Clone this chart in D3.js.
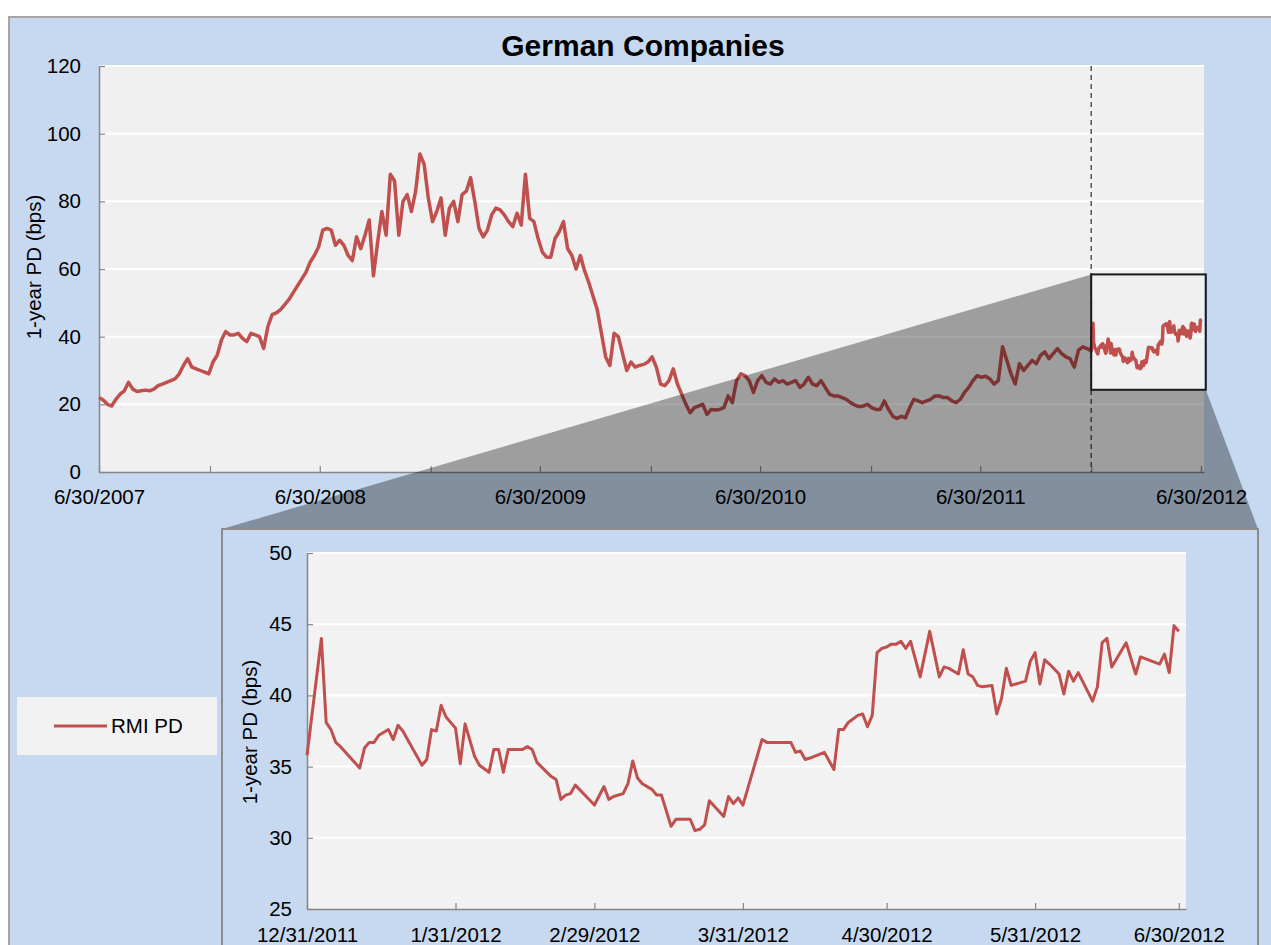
<!DOCTYPE html>
<html><head><meta charset="utf-8">
<script src="https://cdn.jsdelivr.net/npm/d3@7"></script>
<style>
body{margin:0;background:#fff;}
svg{display:block;font-family:"Liberation Sans",Arial,sans-serif;}
</style>
</head><body><svg id="c" width="1271" height="945"></svg>
<script>
// ---------------- data ----------------
const chartTitle = "German Companies";
const yAxisTitle = "1-year PD (bps)";
const seriesName = "RMI PD";

// Weekly readings of RMI PD (bps), starting 6/30/2007, one value per week until 12/31/2011
const weeklyStart = "2007-06-30";
const weeklyValues = [
  22, 21.3, 20, 19.5, 21.5, 23, 24, 26.5, 24.5, 23.8,
  24, 24.2, 24, 24.5, 25.5, 26, 26.5, 27, 27.5, 29,
  31.5, 33.5, 31, 30.5, 30, 29.5, 29, 32.5, 34.5, 39,
  41.5, 40.5, 40.5, 41, 39.5, 38.5, 41, 40.5, 40, 36.5,
  43, 46.5, 47, 48, 49.5, 51, 53, 55, 57, 59,
  62, 64, 66.5, 71.5, 72, 71.5, 67, 68.5, 67, 64,
  62.5, 69.5, 66, 70, 74.5, 58, 68, 77, 70, 88,
  86, 70, 80, 82, 77, 83, 94, 91, 81, 74,
  77, 81, 70, 78, 80, 74, 82, 83, 87, 80,
  72, 69.5, 71.5, 76, 78, 77.5, 76, 74, 72.5, 76.5,
  73, 88, 75, 74, 69, 65, 63.5, 63.5, 69, 71,
  74, 66, 64, 60, 64, 59.5, 56, 52, 48, 41,
  34, 31.5, 41, 40, 35, 30, 32.5, 31, 31.5, 31.8,
  32.5, 34, 31, 26, 25.5, 27, 30.5, 26, 23, 20,
  17.5, 19, 19.5, 20, 17, 18.5, 18.3, 18.5, 19, 22.5,
  20.5, 27, 29, 28.5, 27, 23.5, 27, 28.5, 26.5, 26,
  27.5, 26.5, 27, 26, 26.5, 27, 25, 26, 28, 26,
  25.5, 27, 25, 23, 22.5, 22.5, 22, 21.5, 20.5, 19.8,
  19.3, 19.5, 20, 19, 18.5, 18.5, 21, 18.5, 16.5, 15.8,
  16.5, 16, 19, 21.5, 21, 20.5, 21, 21.5, 22.5, 22.5,
  22, 22, 21, 20.5, 21.5, 23.5, 25, 27, 28.5, 28,
  28.3, 27.5, 26, 27, 37, 33, 29, 26, 32, 30,
  31.5, 33, 32, 34.5, 35.5, 33.5, 35, 36.5, 35, 34,
  33.5, 31, 36, 37, 36.5
];

// Zoomed period: day offsets from 12/31/2011 and values
const insetStart = "2011-12-31";
const insetDayOffsets = [
  0, 3, 4, 5, 6, 7, 11, 12, 13, 14, 15, 17, 18, 19, 20, 24, 25, 26, 27, 28,
  29, 31, 32, 33, 35, 36, 38, 39, 40, 41, 42, 45, 46, 47, 48, 51, 52, 53, 54, 55,
  56, 58, 60, 62, 63, 64, 66, 67, 68, 69, 70, 72, 73, 74, 76, 77, 80, 81, 82, 83,
  84, 87, 88, 89, 90, 91, 95, 96, 101, 102, 103, 104, 105, 108, 110, 111, 112, 113, 115, 116,
  117, 118, 119, 120, 121, 122, 123, 124, 125, 126, 128, 130, 132, 133, 134, 136, 137, 138, 139, 140,
  141, 143, 144, 145, 146, 147, 150, 151, 152, 153, 154, 155, 157, 158, 159, 160, 161, 164, 165, 166,
  167, 168, 171, 173, 174, 178, 179, 180, 181, 182
];
const insetValues = [
  35.8, 44.0, 38.1, 37.6, 36.7, 36.4, 34.9, 36.3, 36.7, 36.7, 37.2, 37.6, 36.9, 37.9, 37.5, 35.1, 35.5, 37.6, 37.5, 39.3,
  38.5, 37.7, 35.2, 38.0, 35.7, 35.1, 34.6, 36.2, 36.2, 34.6, 36.2, 36.2, 36.4, 36.2, 35.3, 34.3, 34.1, 32.7, 33.0, 33.1,
  33.7, 33.0, 32.3, 33.6, 32.7, 32.9, 33.1, 33.8, 35.4, 34.2, 33.8, 33.4, 33.0, 33.0, 30.8, 31.3, 31.3, 30.5, 30.6, 30.9,
  32.6, 31.5, 32.9, 32.4, 32.8, 32.3, 36.9, 36.7, 36.7, 36.0, 36.1, 35.5, 35.6, 36.0, 34.8, 37.6, 37.6, 38.1, 38.6, 38.7,
  37.8, 38.6, 43.0, 43.3, 43.4, 43.6, 43.6, 43.8, 43.3, 43.8, 41.3, 44.5, 41.3, 42.0, 41.9, 41.5, 43.2, 41.5, 41.3, 40.7,
  40.6, 40.7, 38.7, 39.8, 41.9, 40.7, 41.0, 42.4, 43.0, 40.8, 42.5, 42.2, 41.5, 40.1, 41.7, 41.0, 41.6, 39.6, 40.6, 43.7,
  44.0, 42.0, 43.7, 41.5, 42.7, 42.2, 42.9, 41.6, 44.9, 44.5
];

// Axes
const mainXDomain = ["2007-06-30", "2012-07-05"];
const mainYDomain = [0, 120];
const mainYTicks = [0, 20, 40, 60, 80, 100, 120];
const mainXTickDates = ["2007-06-30","2007-12-31","2008-06-30","2008-12-31","2009-06-30","2009-12-31",
                        "2010-06-30","2010-12-31","2011-06-30","2011-12-31","2012-06-30"];
const mainXLabelDates = ["2007-06-30","2008-06-30","2009-06-30","2010-06-30","2011-06-30","2012-06-30"];
const mainXLabels = ["6/30/2007","6/30/2008","6/30/2009","6/30/2010","6/30/2011","6/30/2012"];

const insetXDomain = ["2011-12-31", "2012-07-01"];
const insetYDomain = [25, 50];
const insetYTicks = [25, 30, 35, 40, 45, 50];
const insetXTickDates = ["2011-12-31","2012-01-31","2012-02-29","2012-03-31","2012-04-30","2012-05-31","2012-06-30"];
const insetXLabels = ["12/31/2011","1/31/2012","2/29/2012","3/31/2012","4/30/2012","5/31/2012","6/30/2012"];

// zoom highlight box on main chart (date range and value range)
const zoomBoxDates = ["2011-12-31", "2012-07-08"];
const zoomBoxValues = [24.3, 58.4];

// ---------------- drawing ----------------
const parse = d3.timeParse("%Y-%m-%d");
const RED = "#c0504d";
const BLUE = "#c6d9f0";
const AXIS = "#868686";
const FS = 20.5;
const svg = d3.select("#c");

const mainSeries = weeklyValues.map((v, i) => ({date: d3.timeDay.offset(parse(weeklyStart), 7 * i), value: v}));
const insetSeries = insetValues.map((v, i) => ({date: d3.timeDay.offset(parse(insetStart), insetDayOffsets[i]), value: v}));
const fullSeries = mainSeries.concat(insetSeries);

// outer frame
svg.append("rect").attr("x", 9).attr("y", 17).attr("width", 1300).attr("height", 960)
  .attr("fill", BLUE).attr("stroke", "#a6a6a6").attr("stroke-width", 2);

// title
svg.append("text").attr("x", 643).attr("y", 56).attr("text-anchor", "middle")
  .attr("font-size", 30).attr("font-weight", "bold").attr("fill", "#000").text(chartTitle);

// ---- main chart ----
const mL = 99, mR = 1204, mT = 66, mB = 472;
const x = d3.scaleTime().domain(mainXDomain.map(parse)).range([mL, mR]);
const y = d3.scaleLinear().domain(mainYDomain).range([mB, mT]);

svg.append("rect").attr("x", mL).attr("y", mT).attr("width", mR - mL).attr("height", mB - mT).attr("fill", "#f0f0f0");
svg.append("g").selectAll("line").data(mainYTicks.filter(t => t > 0)).join("line")
  .attr("x1", mL).attr("x2", mR).attr("y1", d => y(d)).attr("y2", d => y(d))
  .attr("stroke", "#fff").attr("stroke-width", 2);

const mainLabelMap = new Map(mainXLabelDates.map((d, i) => [+parse(d), mainXLabels[i]]));
const gx = svg.append("g").attr("transform", `translate(0,${mB})`)
  .call(d3.axisBottom(x).tickValues(mainXTickDates.map(parse)).tickSizeInner(-6).tickSizeOuter(0)
    .tickPadding(17.5).tickFormat(d => mainLabelMap.get(+d) || ""));
const gy = svg.append("g").attr("transform", `translate(${mL},0)`)
  .call(d3.axisLeft(y).tickValues(mainYTicks).tickSizeInner(-6).tickSizeOuter(0).tickPadding(18));
[gx, gy].forEach(g => {
  g.select(".domain").attr("stroke", AXIS).attr("stroke-width", 1.5);
  g.selectAll(".tick line").attr("stroke", AXIS).attr("stroke-width", 1.2);
  g.selectAll(".tick text").attr("font-size", FS).attr("fill", "#000").attr("font-family", "Liberation Sans, Arial, sans-serif");
});

svg.append("text").attr("transform", "translate(34,267) rotate(-90)").attr("text-anchor", "middle")
  .attr("dy", "0.35em").attr("font-size", FS).attr("fill", "#000").text(yAxisTitle);

const line = d3.line().x(d => x(d.date)).y(d => y(d.value));
svg.append("path").datum(fullSeries).attr("d", line).attr("fill", "none")
  .attr("stroke", RED).attr("stroke-width", 3.5).attr("stroke-linejoin", "round");

// dashed marker at start of zoom period
const bx0 = x(parse(zoomBoxDates[0])), bx1 = x(parse(zoomBoxDates[1]));
const by0 = y(zoomBoxValues[1]), by1 = y(zoomBoxValues[0]);
svg.append("line").attr("x1", bx0).attr("x2", bx0).attr("y1", mT).attr("y2", mB)
  .attr("stroke", "#555").attr("stroke-width", 1.5).attr("stroke-dasharray", "5,4");

// inset frame geometry
const fX0 = 222, fX1 = 1258, fY = 529;

// shaded zoom wedge
svg.append("path")
  .attr("d", `M${bx0},${by0}L${fX0},${fY}L${fX1},${fY}L${bx1},${by1}L${bx0},${by1}Z`)
  .attr("fill", "#000").attr("fill-opacity", 0.34);

svg.append("rect").attr("x", bx0).attr("y", by0).attr("width", bx1 - bx0).attr("height", by1 - by0)
  .attr("fill", "none").attr("stroke", "#1a1a1a").attr("stroke-width", 2);

// ---- inset chart ----
svg.append("rect").attr("x", fX0).attr("y", fY).attr("width", fX1 - fX0).attr("height", 500)
  .attr("fill", BLUE).attr("stroke", "#8c8c8c").attr("stroke-width", 2);

const iL = 307, iR = 1186, iT = 553, iB = 909;
const xi = d3.scaleTime().domain([parse(insetXDomain[0]), d3.timeHour.offset(parse(insetXDomain[1]), 12)]).range([iL, iR]);
const yi = d3.scaleLinear().domain(insetYDomain).range([iB, iT]);

svg.append("rect").attr("x", iL).attr("y", iT).attr("width", iR - iL).attr("height", iB - iT).attr("fill", "#f2f2f2");
svg.append("g").selectAll("line").data(insetYTicks.filter(t => t > insetYDomain[0])).join("line")
  .attr("x1", iL).attr("x2", iR).attr("y1", d => yi(d)).attr("y2", d => yi(d))
  .attr("stroke", "#fff").attr("stroke-width", 2);

const gxi = svg.append("g").attr("transform", `translate(0,${iB})`)
  .call(d3.axisBottom(xi).tickValues(insetXTickDates.map(parse)).tickSizeInner(-6).tickSizeOuter(0)
    .tickPadding(18).tickFormat((d, i) => insetXLabels[i]));
const gyi = svg.append("g").attr("transform", `translate(${iL},0)`)
  .call(d3.axisLeft(yi).tickValues(insetYTicks).tickSizeInner(-6).tickSizeOuter(0).tickPadding(15));
[gxi, gyi].forEach(g => {
  g.select(".domain").attr("stroke", AXIS).attr("stroke-width", 1.5);
  g.selectAll(".tick line").attr("stroke", AXIS).attr("stroke-width", 1.2);
  g.selectAll(".tick text").attr("font-size", FS).attr("fill", "#000").attr("font-family", "Liberation Sans, Arial, sans-serif");
});

svg.append("text").attr("transform", "translate(250,732) rotate(-90)").attr("text-anchor", "middle")
  .attr("dy", "0.35em").attr("font-size", FS).attr("fill", "#000").text(yAxisTitle);

const linei = d3.line().x(d => xi(d.date)).y(d => yi(d.value));
svg.append("path").datum(insetSeries).attr("d", linei).attr("fill", "none")
  .attr("stroke", RED).attr("stroke-width", 3).attr("stroke-linejoin", "round");

// ---- legend ----
const lg = svg.append("g");
lg.append("rect").attr("x", 17).attr("y", 697).attr("width", 200).attr("height", 58).attr("fill", "#f2f2f2");
lg.append("line").attr("x1", 54).attr("x2", 107).attr("y1", 726).attr("y2", 726).attr("stroke", RED).attr("stroke-width", 3);
lg.append("text").attr("x", 111).attr("y", 726).attr("dy", "0.35em").attr("font-size", FS).attr("fill", "#000").text(seriesName);
</script>
</body></html>
